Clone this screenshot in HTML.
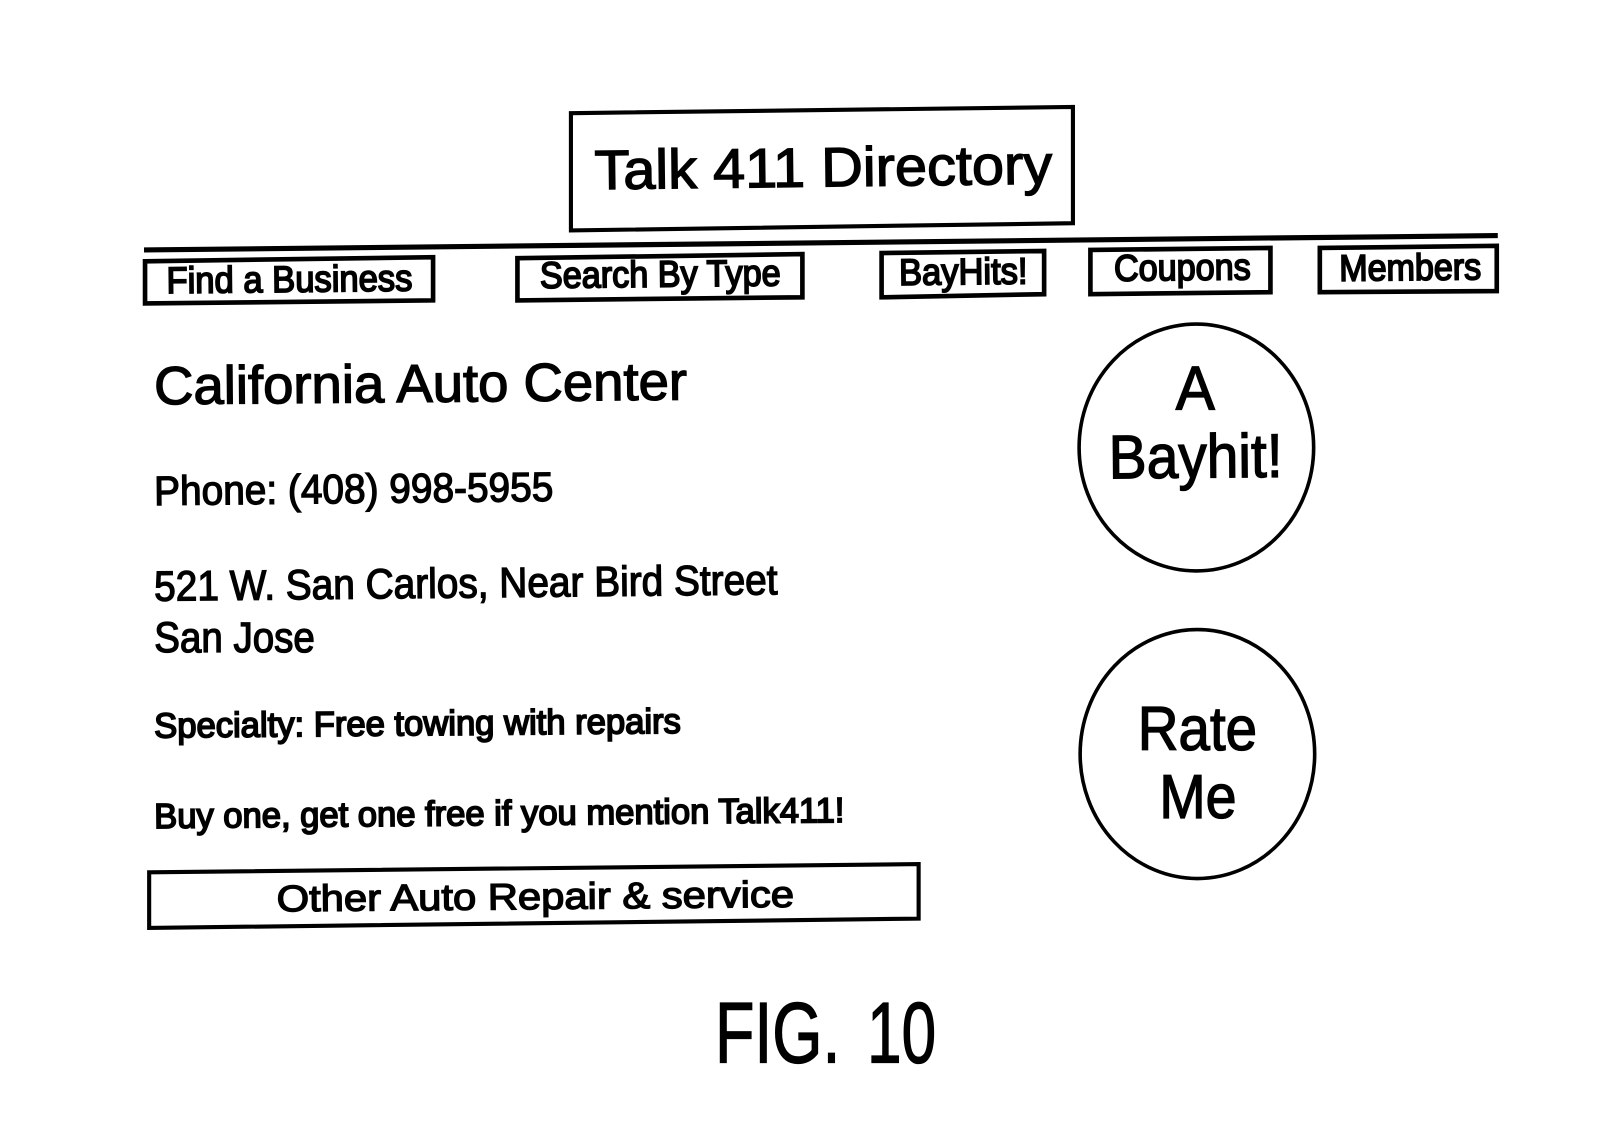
<!DOCTYPE html>
<html><head><meta charset="utf-8"><style>
html,body{margin:0;padding:0;background:#fff;width:1613px;height:1136px;overflow:hidden}
svg{display:block}
text{font-family:"Liberation Sans",sans-serif;fill:#000;stroke:#000;stroke-width:1.3}
text.h{stroke-width:1.7}
polygon,ellipse,line{fill:none;stroke:#000}
</style></head><body>
<svg width="1613" height="1136" viewBox="0 0 1568 1104.3" xmlns="http://www.w3.org/2000/svg" preserveAspectRatio="none">
<polygon points="555,110 1043,104 1043,217 555,224" stroke-width="4"/>
<line x1="140" y1="243" x2="1456" y2="229" stroke-width="5"/>
<polygon points="141,254 421,250 421,292 141,295" stroke-width="4.5"/>
<polygon points="503,251 780,247 780,289 503,292" stroke-width="4.5"/>
<polygon points="857,246 1015,244 1015,286 857,289" stroke-width="4.5"/>
<polygon points="1060,243 1235,241 1235,284 1060,286" stroke-width="4.5"/>
<polygon points="1283,241 1455,239 1455,283 1283,284" stroke-width="4.5"/>
<polygon points="145,848 893,840 893,893 145,902" stroke-width="4"/>
<ellipse cx="1163" cy="435" rx="114" ry="120" stroke-width="3.5"/>
<ellipse cx="1164" cy="733" rx="114" ry="121" stroke-width="3.5"/>
<text x="578" y="184" font-size="54" textLength="445" lengthAdjust="spacingAndGlyphs" transform="rotate(-0.7 578 184)">Talk 411 Directory</text>
<text class="h" x="162" y="285" font-size="36" textLength="239" lengthAdjust="spacingAndGlyphs" transform="rotate(-0.6 162 285)">Find a Business</text>
<text class="h" x="525" y="280" font-size="36" textLength="234" lengthAdjust="spacingAndGlyphs" transform="rotate(-0.6 525 280)">Search By Type</text>
<text class="h" x="874" y="277" font-size="36" textLength="125" lengthAdjust="spacingAndGlyphs" transform="rotate(-0.6 874 277)">BayHits!</text>
<text class="h" x="1083" y="273" font-size="36" textLength="133" lengthAdjust="spacingAndGlyphs" transform="rotate(-0.6 1083 273)">Coupons</text>
<text class="h" x="1302" y="273" font-size="36" textLength="138" lengthAdjust="spacingAndGlyphs" transform="rotate(-0.6 1302 273)">Members</text>
<text x="150" y="393" font-size="52" textLength="518" lengthAdjust="spacingAndGlyphs" transform="rotate(-0.5 150 393)">California Auto Center</text>
<text x="150" y="491" font-size="40" textLength="388" lengthAdjust="spacingAndGlyphs" transform="rotate(-0.6 150 491)">Phone: (408) 998-5955</text>
<text x="150" y="584" font-size="41" textLength="606" lengthAdjust="spacingAndGlyphs" transform="rotate(-0.6 150 584)">521 W. San Carlos, Near Bird Street</text>
<text x="150" y="634" font-size="41" textLength="156" lengthAdjust="spacingAndGlyphs">San Jose</text>
<text class="h" x="150" y="717" font-size="34" textLength="512" lengthAdjust="spacingAndGlyphs" transform="rotate(-0.5 150 717)">Specialty: Free towing with repairs</text>
<text class="h" x="150" y="805" font-size="34" textLength="671" lengthAdjust="spacingAndGlyphs" transform="rotate(-0.5 150 805)">Buy one, get one free if you mention Talk411!</text>
<text x="269" y="886" font-size="36" textLength="503" lengthAdjust="spacingAndGlyphs" transform="rotate(-0.5 269 886)">Other Auto Repair &amp; service</text>
<text x="1143" y="398" font-size="60" textLength="38" lengthAdjust="spacingAndGlyphs">A</text>
<text x="1078" y="465" font-size="60" textLength="169" lengthAdjust="spacingAndGlyphs" transform="rotate(-0.5 1078 465)">Bayhit!</text>
<text x="1106" y="729" font-size="60" textLength="116" lengthAdjust="spacingAndGlyphs">Rate</text>
<text x="1127" y="795" font-size="60" textLength="75" lengthAdjust="spacingAndGlyphs">Me</text>
<text x="695" y="1033" font-size="84" textLength="122" lengthAdjust="spacingAndGlyphs">FIG.</text>
<text x="843" y="1033" font-size="84" textLength="67" lengthAdjust="spacingAndGlyphs">10</text>
</svg>
</body></html>
